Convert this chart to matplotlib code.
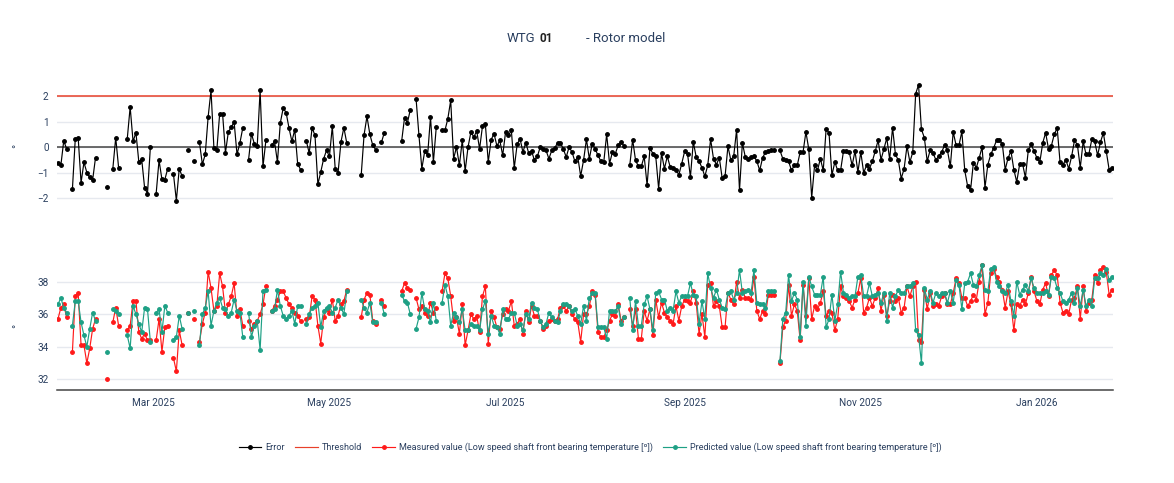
import numpy as np
import pandas as pd
import matplotlib
matplotlib.use("Agg")
import matplotlib.pyplot as plt
import matplotlib.dates as mdates
from matplotlib.lines import Line2D

plt.rcParams['font.family'] = ['Roboto', 'DejaVu Sans']

# ---------------- data ----------------
start_date = "2025-01-27"
n_days = 366
threshold = 2.0

error = [
    -0.63, -0.72, 0.24, -0.07, None, -1.66, 0.33, 0.36, -1.40, -0.60,
    -1.00, -1.19, -1.30, -0.42, None, None, None, -1.57, None, -0.85,
    0.37, -0.81, None, None, 0.33, 1.57, 0.22, 0.56, -0.58, -0.48,
    -1.60, -1.83, 0.00, None, -1.83, -0.52, -1.27, -1.28, -0.85, None,
    -1.07, -2.10, -0.85, -1.15, None, -0.13, None, -0.56, None, 0.18,
    -0.68, -0.29, 1.18, 2.22, -0.04, -0.13, 1.31, 1.31, -0.22, 0.59,
    0.78, 0.98, -0.29, 0.16, 0.75, None, -0.50, 0.52, 0.13, 0.04,
    2.22, -0.76, 0.26, None, 0.07, 0.22, -0.59, 0.95, 1.53, 1.35,
    0.75, 0.22, 0.68, -0.65, -0.89, None, 0.24, -0.24, 0.75, 0.46,
    -1.46, -0.98, -0.46, -0.13, -0.37, 0.81, -0.85, -1.00, 0.20, 0.76,
    0.16, None, None, None, None, -1.11, 0.48, 1.20, 0.50, 0.07,
    -0.10, None, 0.18, 0.56, None, None, None, None, None, 0.22,
    1.14, 0.95, 1.46, None, 1.90, 0.46, -0.85, -0.16, -0.33, 1.18,
    -0.59, 0.78, None, 0.65, 0.65, 1.11, 1.83, -0.46, 0.00, -0.72,
    0.26, -0.94, 0.00, 0.59, 0.39, 0.63, -0.07, 0.82, 0.89, -0.59,
    0.29, 0.52, 0.04, 0.26, -0.33, 0.59, 0.46, 0.65, -0.82, 0.10,
    0.33, -0.20, 0.17, -0.24, -0.16, -0.52, -0.37, 0.00, -0.09, -0.13,
    -0.46, -0.13, -0.04, 0.16, 0.17, -0.09, -0.39, 0.00, -0.20, -0.56,
    -0.39, -1.14, -0.52, 0.30, -0.46, 0.13, -0.07, -0.33, -0.56, -0.59,
    0.50, -0.65, -0.20, -0.26, 0.07, 0.20, 0.04, None, -0.72, 0.29,
    -0.52, -0.76, -0.76, -0.37, -1.50, -0.04, -0.26, -0.37, -1.63, -0.24,
    -0.85, -0.37, -0.78, -0.81, -0.89, -1.09, -0.65, -0.17, -0.26, -1.18,
    0.20, -0.39, -0.56, -0.81, -1.15, -0.72, 0.30, -0.46, -0.69, -0.42,
    -1.22, -1.15, 0.03, -0.52, -0.35, 0.68, -1.70, 0.16, -0.39, -0.46,
    -0.39, -0.37, -0.55, -0.92, -0.42, -0.20, -0.17, -0.13, -0.13, None,
    -0.13, -0.46, -0.52, -0.56, -0.92, -0.72, -0.72, -0.20, -0.20, 0.59,
    -0.09, -1.99, -0.72, -0.92, -0.46, -0.92, 0.72, 0.55, -1.11, -0.59,
    -0.92, -0.92, -0.17, -0.16, -0.20, -0.72, -0.16, -0.98, -0.20, -1.01,
    -0.72, -0.85, -0.56, -0.16, 0.26, -0.50, -0.07, 0.35, -0.48, 0.76,
    -0.29, -0.52, -1.24, -0.85, 0.04, -0.59, -0.20, 2.09, 2.44, 0.69,
    0.37, -0.56, -0.13, -0.24, -0.50, -0.37, -0.20, 0.07, -0.13, -0.76,
    0.59, 0.07, 0.07, 0.61, -0.92, -1.54, -1.70, -0.61, -0.81, -0.43,
    0.00, -1.59, -0.69, -0.29, -0.04, 0.26, 0.26, 0.13, -0.89, -0.43,
    -0.16, -0.89, -1.37, -0.68, -0.65, -1.20, -0.13, 0.10, -0.17, -0.43,
    -0.59, 0.16, 0.56, -0.07, 0.05, 0.50, 0.75, -0.59, -0.69, -0.50,
    -0.85, -0.37, 0.26, 0.09, -0.81, 0.22, -0.29, -0.26, 0.30, 0.22,
    -0.33, 0.20, 0.55, -0.16, -0.89, -0.81,
]

measured = [
    35.7, 36.4, 36.6, 35.8, None, 33.7, 37.1, 37.3, 34.1, 34.1,
    33.0, 33.9, 35.1, 35.7, None, None, None, 32.0, None, 35.5,
    36.4, 35.3, None, None, 35.0, 35.3, 36.8, 36.8, 34.9, 34.5,
    34.8, 34.4, 34.4, None, 34.4, 35.7, 33.7, 35.2, 35.3, None,
    33.3, 32.5, 35.0, 34.1, None, 36.1, None, 35.7, None, 34.3,
    35.4, 36.1, 38.6, 37.6, 36.2, 36.5, 38.5, 37.7, 36.1, 36.6,
    37.1, 37.9, 35.9, 36.3, 35.3, None, 35.6, 35.1, 35.4, 35.6,
    36.0, 36.6, 37.7, None, 36.2, 36.5, 36.9, 37.4, 37.4, 37.0,
    36.6, 36.4, 36.1, 35.9, 35.6, None, 35.7, 35.8, 37.1, 36.9,
    35.3, 34.2, 35.8, 36.3, 36.1, 36.9, 35.6, 35.9, 36.6, 36.8,
    37.5, None, None, None, None, 35.8, 36.9, 37.3, 37.2, 35.6,
    35.4, None, 36.9, 36.5, None, None, None, None, None, 37.4,
    37.9, 37.6, 37.5, None, 37.0, 36.3, 36.5, 36.1, 35.9, 36.7,
    36.1, 36.4, None, 37.4, 38.5, 38.2, 37.1, 35.6, 35.8, 34.8,
    36.6, 34.1, 35.0, 36.0, 35.7, 35.9, 34.9, 37.1, 37.7, 34.2,
    36.2, 35.8, 35.2, 35.1, 36.0, 36.3, 36.2, 36.8, 35.3, 35.4,
    35.7, 34.8, 36.2, 35.5, 36.5, 35.9, 35.9, 35.6, 35.1, 35.3,
    35.6, 35.7, 35.6, 35.7, 36.4, 36.5, 36.2, 36.5, 36.0, 35.7,
    35.5, 34.3, 36.0, 36.0, 36.5, 37.4, 37.2, 34.9, 34.6, 34.6,
    35.0, 35.6, 36.0, 35.9, 36.6, 35.6, 35.8, None, 36.3, 35.3,
    36.3, 34.5, 34.5, 36.2, 35.6, 36.3, 34.7, 36.9, 35.8, 36.7,
    36.1, 35.8, 35.6, 35.4, 36.5, 35.6, 36.5, 36.9, 36.8, 36.7,
    37.4, 36.7, 34.8, 36.0, 34.6, 37.8, 37.9, 36.5, 36.8, 36.5,
    35.2, 35.2, 37.3, 36.9, 36.6, 38.0, 37.0, 37.5, 37.0, 37.0,
    36.9, 38.3, 36.2, 35.7, 36.2, 36.0, 37.2, 37.2, 37.2, None,
    33.0, 35.2, 35.6, 37.8, 35.9, 36.6, 36.2, 34.4, 37.8, 35.9,
    38.2, 35.7, 36.5, 36.3, 36.7, 37.4, 35.9, 36.2, 36.1, 35.0,
    35.7, 37.7, 37.1, 37.0, 36.8, 36.4, 36.9, 37.3, 38.2, 36.1,
    36.4, 37.0, 36.5, 37.0, 37.6, 36.2, 37.2, 35.9, 36.8, 37.2,
    36.8, 37.0, 36.1, 36.4, 37.7, 37.1, 37.7, 38.0, 34.4, 34.3,
    37.5, 36.3, 37.3, 36.5, 36.6, 36.5, 37.1, 37.3, 36.6, 36.6,
    37.3, 38.2, 37.9, 37.0, 37.0, 36.5, 36.8, 37.2, 36.9, 38.0,
    39.0, 36.0, 36.7, 38.5, 38.8, 38.3, 38.0, 37.5, 36.4, 37.4,
    36.6, 35.0, 36.6, 36.5, 36.9, 36.6, 37.3, 38.3, 37.4, 36.8,
    36.6, 37.5, 37.9, 37.1, 38.4, 38.7, 38.4, 36.7, 36.1, 36.2,
    36.0, 36.9, 37.0, 37.7, 35.7, 37.7, 36.2, 36.7, 36.9, 38.4,
    37.9, 38.7, 38.9, 38.6, 37.2, 37.5,
]

predicted = [
    36.6, 37.0, 36.4, 36.1, None, 35.3, 36.8, 36.8, 35.5, 34.7,
    34.0, 35.1, 36.1, 35.6, None, None, None, 33.7, None, 36.3,
    36.2, 36.0, None, None, 34.7, 33.9, 36.5, 36.0, 35.4, 34.9,
    36.4, 36.3, 34.3, None, 36.1, 36.3, 34.9, 36.5, 36.1, None,
    34.4, 34.6, 35.9, 35.1, None, 36.1, None, 36.2, None, 34.1,
    36.0, 36.4, 37.4, 35.3, 36.2, 36.7, 37.0, 36.4, 36.3, 35.9,
    36.1, 36.9, 36.2, 36.1, 34.6, None, 36.1, 34.6, 35.3, 35.6,
    33.8, 37.4, 37.5, None, 36.2, 36.3, 37.5, 36.5, 35.9, 35.7,
    35.9, 36.2, 35.4, 36.5, 36.5, None, 35.4, 36.0, 36.4, 36.5,
    36.7, 35.2, 36.2, 36.4, 36.5, 36.1, 36.4, 36.9, 36.4, 36.0,
    37.4, None, None, None, None, 36.9, 36.4, 36.1, 36.7, 35.5,
    35.5, None, 36.7, 36.0, None, None, None, None, None, 37.2,
    36.8, 36.7, 36.0, None, 35.1, 35.8, 37.3, 36.3, 36.2, 35.5,
    36.7, 35.6, None, 36.7, 37.8, 37.1, 35.3, 36.1, 35.8, 35.5,
    36.3, 35.0, 35.0, 35.4, 35.3, 35.3, 35.0, 36.3, 36.8, 34.8,
    35.9, 35.3, 35.2, 34.8, 36.3, 35.7, 35.7, 36.1, 36.1, 35.3,
    35.4, 35.0, 36.0, 35.7, 36.7, 36.4, 36.3, 35.6, 35.2, 35.4,
    36.1, 35.8, 35.6, 35.5, 36.2, 36.6, 36.6, 36.5, 36.2, 36.3,
    35.9, 35.4, 36.5, 35.6, 37.0, 37.3, 37.3, 35.2, 35.2, 35.2,
    34.5, 36.2, 36.2, 36.2, 36.5, 35.4, 35.8, None, 37.0, 35.0,
    36.8, 35.3, 35.3, 36.6, 37.1, 36.3, 35.0, 37.3, 37.4, 36.9,
    36.9, 36.2, 36.4, 36.2, 37.4, 36.7, 37.1, 37.1, 37.1, 37.9,
    37.2, 37.1, 35.4, 36.8, 35.7, 38.5, 37.6, 37.0, 37.5, 36.9,
    36.4, 36.3, 37.3, 37.4, 36.9, 37.3, 38.7, 37.3, 37.4, 37.5,
    37.3, 38.7, 36.7, 36.6, 36.6, 36.4, 37.4, 37.4, 37.4, None,
    33.1, 35.7, 36.1, 38.4, 36.8, 37.3, 36.9, 34.6, 38.0, 35.3,
    38.3, 37.7, 37.2, 37.2, 37.2, 38.3, 35.2, 35.7, 37.2, 35.6,
    36.6, 38.6, 37.3, 37.2, 37.0, 37.1, 37.1, 38.3, 38.4, 37.1,
    37.1, 37.9, 37.1, 37.2, 37.3, 36.7, 37.3, 35.6, 37.3, 36.4,
    37.1, 37.5, 37.3, 37.3, 37.7, 37.7, 37.9, 35.0, 34.7, 33.0,
    37.6, 36.9, 37.4, 36.7, 37.3, 37.1, 37.3, 37.3, 36.7, 37.4,
    36.7, 38.1, 37.8, 36.3, 37.9, 38.0, 38.5, 37.8, 37.7, 38.4,
    39.0, 37.5, 37.4, 38.8, 38.9, 38.0, 37.7, 37.4, 37.3, 37.8,
    36.8, 35.9, 38.0, 37.2, 37.5, 37.8, 37.4, 38.2, 37.6, 37.3,
    37.3, 37.3, 37.4, 37.2, 38.3, 38.2, 37.6, 37.3, 36.8, 36.7,
    36.9, 37.3, 36.7, 37.6, 36.5, 37.5, 36.5, 36.9, 36.5, 38.2,
    38.2, 38.5, 38.4, 38.8, 38.1, 38.3,
]

error_ticks = [-2, -1, 0, 1, 2]
temp_ticks = [32, 34, 36, 38]
legend_labels = [
    "Error",
    "Threshold",
    "Measured value (Low speed shaft front bearing temperature [º])",
    "Predicted value (Low speed shaft front bearing temperature [º])",
]

# ---------------- styling ----------------
TXT = '#2a3f5f'
GRID = '#e6e9ef'
C_ERR = '#000000'
C_THR = '#e8402a'
C_MEAS = '#ff1a1a'
C_PRED = '#1ea085'

dates = pd.date_range(start_date, periods=n_days, freq='D')
to_arr = lambda lst: np.array([np.nan if v is None else v for v in lst], dtype=float)
err = to_arr(error)
meas = to_arr(measured)
pred = to_arr(predicted)

W, H = 1174, 483
fig = plt.figure(figsize=(W / 100, H / 100), dpi=100)

def axes_px(x0, y0, x1, y1):
    return fig.add_axes([x0 / W, 1 - y1 / H, (x1 - x0) / W, (y1 - y0) / H])

ax1 = axes_px(57, 80, 1113, 212)
ax2 = axes_px(57, 262, 1113, 390)

xlim = (dates[0] - pd.Timedelta(hours=8), dates[-1] + pd.Timedelta(hours=8))

for ax in (ax1, ax2):
    for s in ax.spines.values():
        s.set_visible(False)
    ax.set_xlim(*xlim)
    ax.yaxis.grid(True, color=GRID, linewidth=1.0)
    ax.xaxis.grid(False)
    ax.set_axisbelow(True)
    ax.tick_params(axis='both', length=0, labelsize=7.2, labelcolor=TXT, pad=6)
    ax.xaxis.set_major_locator(mdates.MonthLocator(bymonth=[1, 3, 5, 7, 9, 11]))
    ax.xaxis.set_major_formatter(mdates.DateFormatter('%b %Y'))
    ax.set_ylabel('°', rotation=90, color=TXT, fontsize=8, labelpad=2)
    ax.yaxis.set_label_coords(-(57 - 22) / (1113 - 57), 0.5)

ax1.tick_params(axis='x', labelbottom=False)

ms = 2.5
lw = 0.85

# top panel
ax1.set_ylim(-2.55, 2.63)
ax1.set_yticks(error_ticks)
ax1.set_yticklabels([str(t).replace('-', '\u2212') for t in error_ticks])
ax1.axhline(0, color='#444444', linewidth=1.1, zorder=1)
ax1.axhline(threshold, color=C_THR, linewidth=1.1, zorder=2)
ax1.plot(dates, err, color=C_ERR, linewidth=lw, marker='o', markersize=ms, zorder=3)

# bottom panel
ax2.set_ylim(31.35, 39.2)
ax2.set_yticks(temp_ticks)
ax2.plot(dates, meas, color=C_MEAS, linewidth=lw, marker='o', markersize=ms, zorder=3)
ax2.plot(dates, pred, color=C_PRED, linewidth=lw, marker='o', markersize=ms, zorder=4)
ax2.axhline(31.35, color='#444444', linewidth=1.1, zorder=5, clip_on=False)

# title
fig.text(507 / W, 1 - 38 / H, 'WTG', fontsize=9.5, color=TXT, va='center', ha='left')
fig.text(540 / W, 1 - 39 / H, '01', fontsize=8.5, color='#222222', va='center', ha='left', fontweight='bold')
fig.text(586 / W, 1 - 38 / H, '- Rotor model', fontsize=9.5, color=TXT, va='center', ha='left')

# legend
handles = [
    Line2D([], [], color=C_ERR, marker='o', markersize=ms, linewidth=lw),
    Line2D([], [], color=C_THR, linewidth=lw),
    Line2D([], [], color=C_MEAS, marker='o', markersize=ms, linewidth=lw),
    Line2D([], [], color=C_PRED, marker='o', markersize=ms, linewidth=lw),
]
fig.legend(handles, legend_labels, loc='center', bbox_to_anchor=(590 / W, 1 - 447 / H),
           ncol=4, frameon=False, fontsize=6.5, labelcolor=TXT, handlelength=2.5,
           handletextpad=0.4, columnspacing=1.2)

fig.savefig('out.png', dpi=100)
